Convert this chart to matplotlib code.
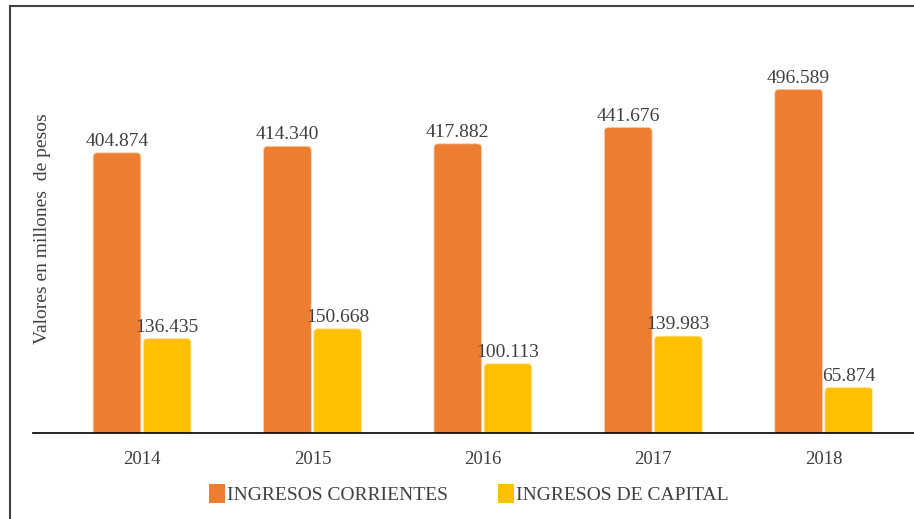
import matplotlib
matplotlib.use("Agg")
import matplotlib.pyplot as plt
from matplotlib.patches import FancyBboxPatch, Patch
from matplotlib.lines import Line2D
import numpy as np

years = ["2014", "2015", "2016", "2017", "2018"]
corrientes = [404.874, 414.340, 417.882, 441.676, 496.589]
capital = [136.435, 150.668, 100.113, 139.983, 65.874]
series_names = ["INGRESOS CORRIENTES", "INGRESOS DE CAPITAL"]

ORANGE = "#ED7D31"
YELLOW = "#FFC000"
TXT = "#404040"

plt.rcParams["font.family"] = ["Liberation Serif", "DejaVu Serif"]

fig = plt.figure(figsize=(9.14, 5.19), dpi=100)
ax = fig.add_axes([33/914, (519-433)/519, 1-33/914, (433-6)/519])

x = np.arange(len(years))
w = 0.28
off = 0.147
b1 = ax.bar(x - off, corrientes, w, color=ORANGE)
b2 = ax.bar(x + off, capital, w, color=YELLOW)

ax.set_xlim(-0.64, 4.53)
ax.set_ylim(0, 617)

# rounded-top versions of the bars
rx = 0.025
ry = rx * (617/427) / (5.17/881)
for bars, col, vals in ((b1, ORANGE, corrientes), (b2, YELLOW, capital)):
    for r, v in zip(bars, vals):
        r.set_visible(False)
        p = FancyBboxPatch((r.get_x(), -ry*1.5), r.get_width(), r.get_height() + ry*1.5,
                           boxstyle=f"round,pad=0,rounding_size={rx}",
                           mutation_aspect=ry/rx, facecolor=col,
                           edgecolor="#fbd3b5" if col == ORANGE else "#ffe9a6",
                           linewidth=0.6, clip_on=True)
        ax.add_patch(p)
        ax.annotate(f"{v:.3f}", (r.get_x() + r.get_width()/2, v), xytext=(0, 2),
                    textcoords="offset points", ha="center", va="bottom",
                    fontsize=14, color=TXT)

for s in ["top", "right", "left"]:
    ax.spines[s].set_visible(False)
ax.spines["bottom"].set_color("#000000")
ax.spines["bottom"].set_linewidth(1.2)
ax.set_yticks([])
ax.set_xticks(x)
ax.set_xticklabels(years, fontsize=13.5, color=TXT)
ax.tick_params(axis="x", length=0, pad=13)
fig.text(43/914, 1-229/519, "Valores en millones  de pesos", rotation=90,
         ha="center", va="center", fontsize=14, color=TXT)

handles = [Patch(facecolor=ORANGE), Patch(facecolor=YELLOW)]
fig.legend(handles, series_names, loc="center", bbox_to_anchor=(469/914, 1-494/519),
           ncol=2, frameon=False, fontsize=14, handlelength=0.8, handleheight=1.1,
           handletextpad=0.1, columnspacing=2.6, labelcolor=TXT)

# outer frame (top and left edges)
fig.add_artist(Line2D([10/914, 1], [1-6/519, 1-6/519], color="#404040", lw=1.5, transform=fig.transFigure))
fig.add_artist(Line2D([10/914, 10/914], [0, 1-6/519], color="#404040", lw=1.5, transform=fig.transFigure))

fig.savefig("out.png", dpi=100)
